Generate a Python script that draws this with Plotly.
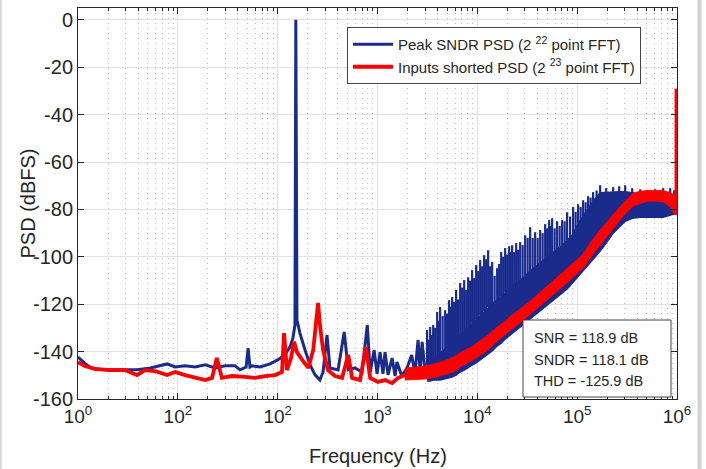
import plotly.graph_objects as go

# ---------------- data ----------------
# Blue trace: "Peak SNDR PSD", low-frequency part (Hz, dBFS)
blue_lf_f = [1, 1.17, 1.41, 1.86, 2.63, 3.9, 5.3, 6.6, 7.8, 9.4,
             11.8, 14.9, 18.8, 23.6, 29.7, 37.4, 42, 48.3, 50.6, 52.8,
             55.4, 66.6, 84, 100, 118, 133, 142, 149, 152, 156,
             167, 188, 211, 237, 265, 285, 312, 334, 403, 464,
             509, 595, 700, 790, 845, 925, 990, 1060, 1135, 1190,
             1275, 1400, 1500, 1565, 1750, 1975, 2200, 2370, 2550, 2670,
             2800, 3000]
blue_lf_db = [-142.3, -145.0, -147.3, -147.7, -147.7, -147.7, -146.9, -146.0, -145.2, -146.5,
              -146.0, -146.5, -145.6, -146.9, -146.0, -146.0, -147.7, -146.5, -138.5, -146.5,
              -146.0, -146.5, -145.2, -143.5, -141.4, -138.0, -134.3, -128.8, 0.0, -126.7,
              -132.2, -139.3, -145.6, -149.8, -152.0, -148.6, -133.0, -146.9, -147.7, -131.7,
              -147.7, -146.9, -148.6, -128.8, -148.6, -139.3, -149.4, -140.2, -149.4, -140.2,
              -149.8, -142.7, -150.3, -144.4, -150.3, -146.9, -141.4, -149.4, -135.1, -148.6,
              -135.9, -148.6]

# Blue trace, high-frequency part: spike tops, dense-band top and band bottom
blue_hf_f = [3140, 3370, 3610, 3960, 4240, 4760, 5210, 5590, 6130, 6730,
             7380, 8090, 8870, 9730, 10670, 11700, 12830, 14070, 15790, 17320,
             18990, 20830, 22320, 24480, 26850, 30130, 33810, 37940, 42570, 47770,
             52390, 56140, 63000, 70690, 79320, 91070, 102200, 114700, 128700, 144400,
             169900, 195300, 229500, 263600, 302700, 355800, 427800, 502800, 604700, 727100,
             854500, 937000, 1000000]
blue_hf_top = [-130.9, -129.6, -128.8, -123.3, -121.2, -122.5, -118.3, -117.0, -114.0, -111.1,
               -109.8, -108.6, -105.6, -103.5, -101.4, -99.3, -97.2, -102.2, -104.8, -98.0,
               -96.3, -95.5, -95.1, -94.2, -93.8, -90.9, -87.5, -89.6, -88.7, -86.2,
               -84.5, -83.7, -85.0, -84.5, -81.2, -79.0, -77.8, -76.1, -74.4, -72.7,
               -69.8, -71.0, -70.6, -70.2, -69.8, -71.0, -71.5, -71.9, -71.5, -71.0,
               -71.0, -71.9, -76.1]
blue_hf_hi = [-145.7, -144.4, -143.5, -141.9, -140.6, -138.9, -137.6, -136.4, -134.7, -133.0,
              -131.3, -129.6, -127.9, -126.3, -124.6, -122.9, -121.2, -119.9, -118.3, -116.6,
              -114.9, -113.6, -112.4, -111.1, -109.8, -108.1, -106.0, -104.3, -102.7, -101.0,
              -99.7, -98.4, -96.7, -95.1, -93.0, -90.4, -86.0, -83.0, -79.5, -76.5,
              -73.0, -72.8, -72.5, -72.5, -72.5, -73.0, -73.5, -73.5, -73.5, -73.0,
              -73.0, -74.5, -76.1]
blue_hf_lo = [-152.4, -152.4, -152.0, -152.0, -152.0, -151.6, -151.1, -150.7, -149.9, -148.6,
              -147.8, -146.9, -145.7, -144.8, -143.5, -142.3, -141.0, -139.7, -137.6, -136.4,
              -134.7, -133.4, -132.2, -130.9, -129.6, -127.9, -126.3, -124.6, -122.9, -121.2,
              -119.9, -118.7, -117.0, -115.3, -113.6, -110.7, -108.6, -106.0, -103.5, -101.0,
              -97.6, -94.2, -90.0, -87.5, -85.0, -83.7, -83.3, -83.3, -83.3, -83.3,
              -82.4, -82.0, -81.6]
# Smaller spurs between the main ones
blue_mid_f = [3250, 3490, 3780, 4100, 4490, 4980, 5400, 5850, 6420, 7050,
              7730, 8470, 9290, 10190, 11170, 12250, 13440, 14900, 16540, 18140,
              19890, 21560, 23380, 25640, 28440, 31920, 35820, 40190, 45100, 50030,
              54230, 59470, 66730, 74880, 84990, 96470, 108300, 121500, 136300, 156600]
blue_mid_top = [-135, -133, -130, -127, -125, -124, -121, -119, -118, -113,
                -114, -110, -109, -106, -104, -101, -104, -108, -103, -100,
                -99, -98, -98, -97, -95, -92, -92, -92, -90, -88,
                -87, -88, -87, -85, -83, -81, -79, -77, -75, -72]

# Red trace: "Inputs shorted PSD", low-frequency part
red_lf_f = [1, 1.17, 1.48, 2.09, 2.96, 3.9, 4.69, 5.9, 7.8, 9.4,
            11.8, 14.9, 18.8, 22.0, 24.6, 27.6, 34.8, 46.9, 59.2, 74.9,
            94.3, 110.5, 115.8, 124, 136, 146, 156, 176, 203, 227,
            242, 254, 265, 285, 319, 376, 442, 509, 557, 669,
            765, 845, 1010, 1190, 1400, 1610, 1880]
red_lf_db = [-144.4, -146.1, -147.3, -147.8, -147.8, -149.9, -147.8, -148.2, -149.9, -148.6,
             -149.9, -151.1, -152.0, -151.1, -142.7, -151.1, -150.3, -150.7, -151.1, -150.3,
             -149.9, -148.6, -132.2, -147.8, -142.7, -135.9, -140.2, -143.5, -146.9, -139.3,
             -126.7, -119.5, -128.8, -139.3, -147.8, -150.3, -151.1, -141.4, -151.1, -152.0,
             -138.1, -151.1, -152.8, -152.0, -153.3, -151.1, -149.9]

# Red trace, high-frequency noise band (top / bottom)
red_hf_f = [1880, 2270, 3000, 3960, 4980, 5995, 7210, 8670, 10670, 12830,
            15790, 18990, 22840, 27470, 33810, 40650, 50020, 60230, 72440, 87100,
            107100, 120200, 134900, 162200, 199800, 240300, 289000, 324300, 363900, 427800,
            502800, 604700, 727100, 835500, 916200, 981800]
red_hf_hi = [-146.9, -146.5, -146.1, -144.8, -143.5, -141.9, -139.7, -138.1, -135.5, -133.0,
             -129.6, -127.1, -124.2, -121.6, -118.7, -115.7, -112.4, -109.4, -106.5, -103.5,
             -100.1, -97.6, -94.2, -89.6, -84.9, -81.2, -77.4, -75.3, -73.1, -72.3,
             -72.0, -72.0, -72.0, -72.7, -74.0, -73.1]
red_hf_lo = [-152.0, -152.0, -151.6, -150.7, -149.4, -148.2, -145.7, -144.0, -141.4, -139.3,
             -135.5, -133.0, -130.1, -127.5, -124.6, -121.6, -118.3, -115.3, -112.4, -109.4,
             -106.0, -103.9, -100.5, -96.3, -91.3, -87.1, -82.8, -80.7, -78.6, -77.4,
             -76.5, -76.5, -76.9, -78.6, -81.2, -82.4]

# Red tone at the band edge
red_edge_f = 990000
red_edge_lo = -82.4
red_edge_peak = -29.0

# Axis ticks
x_tick_vals = [1, 10, 100, 1000, 10000, 100000, 1000000]
x_tick_text = ["10<sup>0</sup>", "10<sup>2</sup>", "10<sup>2</sup>", "10<sup>3</sup>",
               "10<sup>4</sup>", "10<sup>5</sup>", "10<sup>6</sup>"]
x_minor_vals = [m * 10 ** k for k in range(6) for m in range(2, 10)]
y_tick_vals = [-160, -140, -120, -100, -80, -60, -40, -20, 0]
y_tick_text = ["-160", "-140", "-120", "-100", "-80", "-60", "-40", "-20", "0"]

legend_blue = "Peak SNDR PSD (2 <sup>22</sup> point FFT)"
legend_red = "Inputs shorted PSD (2 <sup>23</sup> point FFT)"
stats_lines = ["SNR = 118.9 dB", "SNDR = 118.1 dB", "THD = -125.9 dB"]

BLUE = "#1a2b8c"
RED = "#ff0000"
INK = "#262626"

fig = go.Figure()

# Blue dense band (high frequency)
fig.add_trace(go.Scatter(
    x=blue_hf_f + blue_hf_f[::-1], y=blue_hf_hi + blue_hf_lo[::-1],
    fill="toself", fillcolor=BLUE, mode="lines", line=dict(color=BLUE, width=1.5),
    showlegend=False, hoverinfo="skip"))
# Blue spikes
sx, sy = [], []
for f, base, top in zip(blue_hf_f, blue_hf_hi, blue_hf_top):
    sx += [f, f, None]
    sy += [base, top, None]
for f, base, top in zip(blue_mid_f, blue_hf_hi, blue_mid_top):
    sx += [f, f, None]
    sy += [base, top, None]
fig.add_trace(go.Scatter(x=sx, y=sy, mode="lines", line=dict(color=BLUE, width=2.2),
                         showlegend=False, hoverinfo="skip"))
# Blue low-frequency line (legend entry)
fig.add_trace(go.Scatter(x=blue_lf_f, y=blue_lf_db, mode="lines",
                         line=dict(color=BLUE, width=3), name=legend_blue))

# Red band
fig.add_trace(go.Scatter(
    x=red_hf_f + red_hf_f[::-1], y=red_hf_hi + red_hf_lo[::-1],
    fill="toself", fillcolor=RED, mode="lines", line=dict(color=RED, width=0.8),
    showlegend=False, hoverinfo="skip"))
# Red low-frequency line (legend entry)
fig.add_trace(go.Scatter(x=red_lf_f, y=red_lf_db, mode="lines",
                         line=dict(color=RED, width=3.8), name=legend_red))
# Red edge tone
fig.add_trace(go.Scatter(x=[red_edge_f, red_edge_f], y=[red_edge_lo, red_edge_peak],
                         mode="lines", line=dict(color=RED, width=4),
                         showlegend=False, hoverinfo="skip"))

L, R, T, B = 78, 29, 8, 70
W, H = 706, 469
pw, ph = W - L - R, H - T - B


def px(xp):
    return (xp - L) / pw


def py(yp):
    return (H - B - yp) / ph


fig.update_layout(
    width=W, height=H,
    margin=dict(l=L, r=R, t=T, b=B),
    paper_bgcolor="white", plot_bgcolor="white",
    font=dict(family="Liberation Sans, Arial, sans-serif", color=INK),
    legend=dict(x=px(347), y=py(27), xanchor="left", yanchor="top",
                bgcolor="white", bordercolor="#444444", borderwidth=1,
                font=dict(size=15, color=INK), traceorder="normal",
                itemwidth=40),
    xaxis=dict(type="log", range=[0, 6], tickmode="array",
               tickvals=x_tick_vals, ticktext=x_tick_text,
               ticks="inside", ticklen=6, tickcolor=INK,
               showline=True, linecolor=INK, linewidth=1, mirror="ticks",
               showgrid=True, gridcolor="#e2e2e2", zeroline=False,
               tickfont=dict(size=19, color=INK),
               minor=dict(tickvals=x_minor_vals, ticks="inside", ticklen=3,
                          tickcolor=INK, showgrid=True, gridcolor="#bdbdbd",
                          griddash="1px,4px", gridwidth=1)),
    yaxis=dict(range=[-160, 5], tickmode="array", tickvals=y_tick_vals,
               ticktext=y_tick_text,
               ticks="inside", ticklen=6, tickcolor=INK,
               showline=True, linecolor=INK, linewidth=1, mirror="ticks",
               showgrid=True, gridcolor="#e2e2e2", zeroline=False,
               tickfont=dict(size=20, color=INK)),
)

annotations = [
    dict(text="Frequency (Hz)", x=0.5, y=py(456), xref="paper", yref="paper",
         xanchor="center", yanchor="middle", showarrow=False,
         font=dict(size=20, color=INK)),
    dict(text="PSD (dBFS)", x=px(27), y=0.5, xref="paper", yref="paper",
         xanchor="center", yanchor="middle", showarrow=False, textangle=-90,
         font=dict(size=20, color=INK)),
]
for txt, yc in zip(stats_lines, [338, 360, 381]):
    annotations.append(dict(text=txt, x=px(532), y=py(yc), xref="paper", yref="paper",
                            xanchor="left", yanchor="middle", showarrow=False,
                            font=dict(size=14.5, color=INK)))
fig.update_layout(annotations=annotations)

fig.update_layout(shapes=[
    dict(type="rect", xref="paper", yref="paper",
         x0=px(523), x1=px(671), y0=py(397), y1=py(320),
         fillcolor="white", line=dict(color="#444444", width=1), layer="above"),
    dict(type="line", xref="paper", yref="paper",
         x0=px(699.5), x1=px(699.5), y0=py(0), y1=py(469),
         line=dict(color="#d2d2d2", width=4)),
    dict(type="line", xref="paper", yref="paper",
         x0=px(0.8), x1=px(0.8), y0=py(0), y1=py(469),
         line=dict(color="#d9d9d9", width=2)),
])

fig.write_html("out.html", config={"displayModeBar": False},
               post_script="document.body.style.margin='0px';")
